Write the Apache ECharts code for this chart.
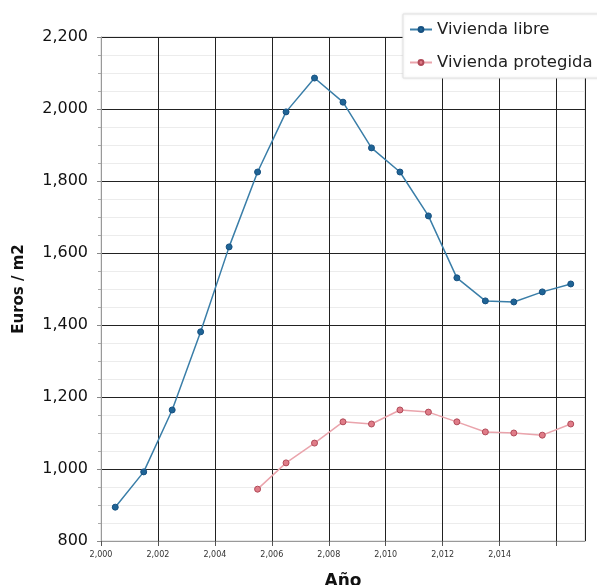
<!DOCTYPE html>
<html>
<head>
<meta charset="utf-8">
<script src="https://cdn.jsdelivr.net/npm/echarts@6/dist/echarts.min.js"></script>
<style>html,body{margin:0;padding:0;background:#fff}#c{width:597px;height:585px}</style>
</head>
<body>
<div id="c"></div>
<script>
const years = [2000,2001,2002,2003,2004,2005,2006,2007,2008,2009,2010,2011,2012,2013,2014,2015,2016];
const libre = [894,992,1164,1381,1617,1825,1992,2086,2019,1892,1825,1703,1531,1467,1464,1492,1514];
const protegidaYears = [2005,2006,2007,2008,2009,2010,2011,2012,2013,2014,2015,2016];
const protegida = [944,1017,1072,1131,1125,1164,1158,1131,1103,1100,1094,1125];
const xTickLabels = ['2,000','2,002','2,004','2,006','2,008','2,010','2,012','2,014'];

const font = 'DejaVu Sans, Verdana, sans-serif';
const chart = echarts.init(document.getElementById('c'));
chart.setOption({
  animation: false,
  grid: {left: 101, right: 12, top: 37, bottom: 44, show: true, borderColor: '#d0d0d0', borderWidth: 1,
         containLabel: false, outerBoundsMode: 'none'},
  legend: {
    orient: 'vertical', left: 403, top: 14,
    backgroundColor: '#fff', borderColor: '#e2e2e2', borderWidth: 1,
    padding: [7, 20, 7, 6], itemGap: 16, itemWidth: 22, itemHeight: 6,
    textStyle: {fontFamily: font, fontSize: 16.5, color: '#222'},
    shadowColor: 'rgba(0,0,0,0.10)', shadowBlur: 3
  },
  xAxis: {
    type: 'value', min: 2000, max: 2017, interval: 2,
    name: 'Año', nameLocation: 'middle', nameGap: 32,
    nameTextStyle: {fontFamily: font, fontWeight: 'bold', fontSize: 17, color: '#111'},
    axisLine: {show: true, lineStyle: {color: '#999'}},
    axisTick: {show: true, length: 5, lineStyle: {color: '#555'}},
    axisLabel: {
      fontFamily: font, fontSize: 8, color: '#333', margin: 10, showMaxLabel: false,
      formatter: function (v) { const i = (v - 2000) / 2; return xTickLabels[i] || ''; }
    },
    splitLine: {show: true, lineStyle: {color: '#222', width: 1}}
  },
  yAxis: {
    type: 'value', min: 800, max: 2200, interval: 200,
    name: 'Euros / m2', nameLocation: 'middle', nameGap: 74, nameRotate: 90,
    nameTextStyle: {fontFamily: font, fontWeight: 'bold', fontSize: 15, color: '#111'},
    axisLine: {show: true, lineStyle: {color: '#999'}},
    axisTick: {show: true, length: 4, lineStyle: {color: '#888'}},
    minorTick: {show: true, splitNumber: 4, length: 3, lineStyle: {color: '#aaa'}},
    minorSplitLine: {show: true, lineStyle: {color: '#ececec'}},
    axisLabel: {
      fontFamily: font, fontSize: 16, color: '#111', margin: 13,
      formatter: function (v) { return v.toLocaleString('en-US'); }
    },
    splitLine: {show: true, lineStyle: {color: '#222', width: 1}}
  },
  series: [
    {
      name: 'Vivienda libre', type: 'line',
      data: years.map((y, i) => [y + 0.5, libre[i]]),
      symbol: 'circle', symbolSize: 6,
      lineStyle: {color: '#3a7ea8', width: 1.5},
      itemStyle: {color: '#1f6496', borderColor: '#165080', borderWidth: 1}
    },
    {
      name: 'Vivienda protegida', type: 'line',
      data: protegidaYears.map((y, i) => [y + 0.5, protegida[i]]),
      symbol: 'circle', symbolSize: 6,
      lineStyle: {color: '#eaa4ac', width: 1.5},
      itemStyle: {color: '#e07c88', borderColor: '#b04a58', borderWidth: 1}
    }
  ]
});
</script>
</body>
</html>
